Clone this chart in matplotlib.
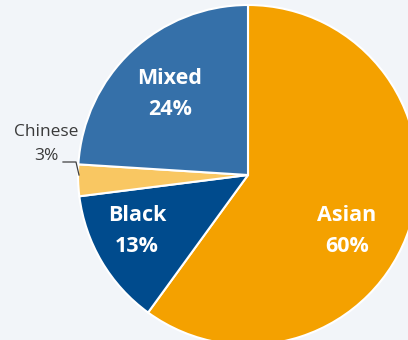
import matplotlib.pyplot as plt
import numpy as np

labels = ['Asian', 'Black', 'Chinese', 'Mixed']
shares = [60, 13, 3, 24]
colors = ['#F4A100', '#004B8D', '#F9C762', '#3570A9']

fig = plt.figure(figsize=(4.08, 3.4), dpi=100)
fig.patch.set_facecolor('#F2F5F9')
ax = fig.add_axes([0, 0, 1, 1])
ax.set_facecolor('#F2F5F9')

R = 170.0
ax.pie(shares, colors=colors, startangle=90, counterclock=False, radius=1,
       wedgeprops=dict(edgecolor='white', linewidth=1.5))
ax.set_xlim(-248 / R, 160 / R)
ax.set_ylim(-165 / R, 175 / R)
ax.set_aspect('equal')
ax.axis('off')

font = 'Open Sans'
# inside labels (offset in pixels from the centre, converted to radius units)
inside = {'Asian': (99, -56), 'Black': (-111, -56), 'Mixed': (-78, 81)}
for lab, s in zip(labels, shares):
    if lab in inside:
        dx, dy = inside[lab]
        ax.text(dx / R, dy / R, f'{lab}\n{s}%', color='white', fontsize=15.5,
                fontweight='bold', family=font, ha='center', va='center',
                linespacing=1.65)

# outside label for Chinese
ax.text(-202 / R, 31 / R, f'Chinese\n{shares[2]}%', color='#3A3A3A', fontsize=12.5,
        family=font, ha='center', va='center', multialignment='center',
        linespacing=1.75)
ax.plot([-185 / R, -172 / R, -169 / R], [13 / R, 13 / R, 0], color='#404040', lw=0.9)

fig.savefig('out.png', dpi=100, facecolor=fig.get_facecolor())
